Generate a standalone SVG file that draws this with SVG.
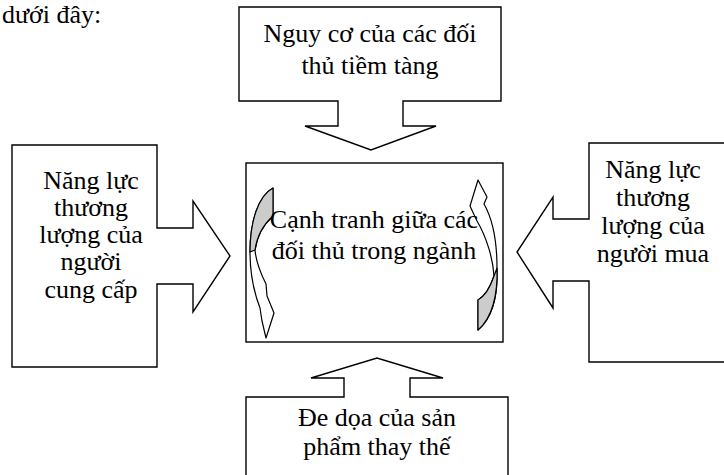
<svg xmlns="http://www.w3.org/2000/svg" width="724" height="475" viewBox="0 0 724 475">
<style>
.shape{fill:#fff;stroke:#000;stroke-width:1.4;stroke-linejoin:miter}
.curve{fill:#fff;stroke:#000;stroke-width:1.2;stroke-linejoin:round}
.shade{fill:#cccccc;stroke:#000;stroke-width:1.2;stroke-linejoin:round}
.t{font-family:'Liberation Serif','Times New Roman',Times,serif;font-size:26px;fill:#000}
.c{text-anchor:middle}
</style>
<rect width="724" height="475" fill="#fff"/>
<g font-family="Liberation Serif, Times New Roman, serif" font-size="26">
<text class="t" x="2" y="23">dưới đây:</text>
<g id="center">
<rect class="shape" x="246" y="163" width="257" height="179"/>
<g id="cycle">
<path class="curve" d="M273,188 C258,196 250,222 250,252 C250,278 255,295 260,308 L262,321 L266,338 L274,313 L267,296 L266,284 C260,272 256,262 255,250 C257,236 264,224 273,216 Z"/>
<path class="shade" d="M273,188 C258,196 250,222 250,252 L255,250 C257,236 264,224 273,216 Z"/>
<path class="curve" d="M478,180 L470,206 L477,221 C486,236 493,258 494,276 C490,288 485,296 478,300 L478,330 C492,318 498,295 497,268 C497,240 492,218 484,204 L487,197 Z"/>
<path class="shade" d="M478,300 C485,296 490,288 494,276 L497,268 C498,295 492,318 478,330 Z"/>
</g>
<text class="t c" x="374" y="228">Cạnh tranh giữa các</text>
<text class="t c" x="374" y="259">đối thủ trong ngành</text>
</g>
<g id="top">
<path class="shape" d="M239,7 H501 V101 H403 V126 H436 L371,150 L305,126 H338 V101 H239 Z"/>
<text class="t c" x="370" y="42">Nguy cơ của các đối</text>
<text class="t c" x="370" y="74">thủ tiềm tàng</text>
</g>
<g id="left">
<path class="shape" d="M12,145 H157 V228 H193 V201 L230,256 L193,312 V284 H157 V367 H12 Z"/>
<text class="t c" x="91" y="189">Năng lực</text>
<text class="t c" x="91" y="216">thương</text>
<text class="t c" x="91" y="243">lượng của</text>
<text class="t c" x="91" y="270">người</text>
<text class="t c" x="91" y="298">cung cấp</text>
</g>
<g id="right">
<path class="shape" d="M589,143 H740 V362 H589 V281 H553 V308 L517,252 L553,197 V219 H589 Z"/>
<text class="t c" x="653" y="178">Năng lực</text>
<text class="t c" x="653" y="206">thương</text>
<text class="t c" x="653" y="234">lượng của</text>
<text class="t c" x="653" y="262">người mua</text>
</g>
<g id="bottom">
<path class="shape" d="M246,397 H344 V378 H311 L377,358 L443,378 H410 V397 H508 V485 H246 Z"/>
<text class="t c" x="377" y="426">Đe dọa của sản</text>
<text class="t c" x="377" y="455">phẩm thay thế</text>
</g>
</g>
</svg>
